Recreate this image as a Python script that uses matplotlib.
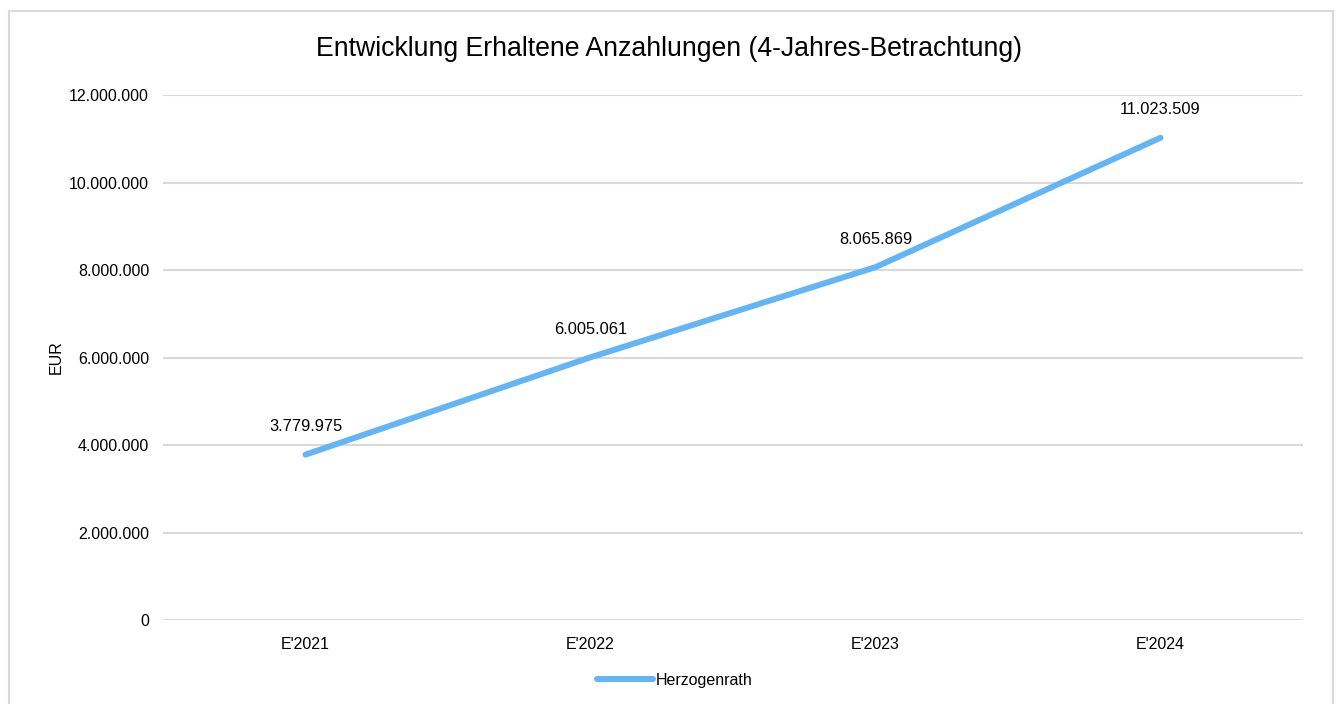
import matplotlib.pyplot as plt
from matplotlib.patches import Rectangle
from matplotlib.ticker import FuncFormatter

# Data
categories = ["E'2021", "E'2022", "E'2023", "E'2024"]
values = [3779975, 6005061, 8065869, 11023509]
series_name = "Herzogenrath"

LINE_COLOR = "#64B5F6"
GRID_COLOR = "#D9D9D9"

plt.rcParams['font.family'] = ['Liberation Sans', 'DejaVu Sans']


def de_format(v):
    # German thousands separator
    return f"{int(round(v)):,}".replace(",", ".")


def main():
    fig = plt.figure(figsize=(13.37, 7.04), dpi=100)
    ax = fig.add_axes([0.1219, 0.1193, 0.8527, 0.7457])

    x = range(len(categories))
    ax.plot(x, values, color=LINE_COLOR, linewidth=4.3, solid_capstyle='round',
            label=series_name)

    for xi, v in zip(x, values):
        ax.annotate(de_format(v), (xi, v), xytext=(0, 20), textcoords='offset points',
                    ha='center', va='center', fontsize=11.8, color='black')

    ax.set_xlim(-0.5, len(categories) - 0.5)
    ax.set_ylim(0, 12000000)
    ax.set_yticks(range(0, 12000001, 2000000))
    ax.yaxis.set_major_formatter(FuncFormatter(lambda v, p: de_format(v)))
    ax.set_xticks(list(x))
    ax.set_xticklabels(categories)
    ax.tick_params(axis='both', length=0, labelsize=11.5, colors='black')
    ax.tick_params(axis='x', pad=12)
    ax.tick_params(axis='y', pad=10)

    ax.grid(True, axis='y', color=GRID_COLOR, linewidth=1.5)
    ax.set_axisbelow(True)
    for s in ax.spines.values():
        s.set_visible(False)

    ax.set_ylabel("EUR", fontsize=11.5, labelpad=4)
    fig.text(0.5, 0.93, "Entwicklung Erhaltene Anzahlungen (4-Jahres-Betrachtung)",
             ha='center', va='center', fontsize=19.2)

    fig.legend(loc='center', bbox_to_anchor=(0.5045, 0.034), frameon=False,
               fontsize=11.5, handlelength=3.5, handletextpad=0.15)

    # Chart border
    fig.patches.append(Rectangle((9 / 1337, -0.01), 1324 / 1337, 1 - 11 / 704 + 0.01,
                                 transform=fig.transFigure, fill=False,
                                 edgecolor=GRID_COLOR, linewidth=1.5))

    fig.savefig("out.png", dpi=100)
    plt.close(fig)


if __name__ == "__main__":
    main()
